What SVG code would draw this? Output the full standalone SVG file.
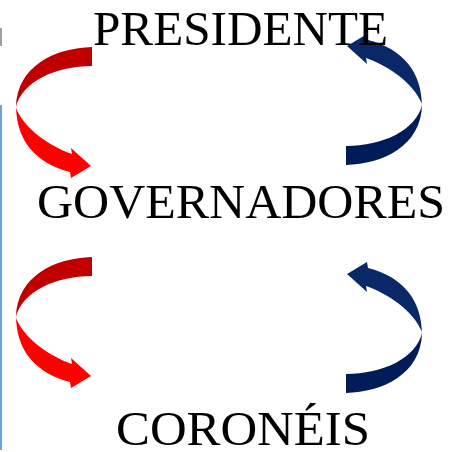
<svg xmlns="http://www.w3.org/2000/svg" xmlns:xlink="http://www.w3.org/1999/xlink" width="451" height="452" viewBox="0 0 451 452">
  <style>
    .lbl { font-family: "Liberation Serif", "DejaVu Serif", serif; font-size: 48px; fill: #000; }
    .red-tail { fill: #c00000; }
    .red-head { fill: #ff0000; }
    .blue-tail { fill: #001c58; }
    .blue-head { fill: #0a2766; }
  </style>
  <defs>
    <path id="tailBand" d="M92,47 C55,48 17,66 16,107 C22,82 55,66 92,66 Z"/>
    <path id="headBand" d="M16,105 C16,140 35,163 70,172 L71,178 L91,166 L71,148 L72,154 C50,146 25,130 16,108 Z"/>
  </defs>
  <rect x="0" y="28" width="2" height="18" fill="#a0a0a0"/>
  <line x1="1" y1="105" x2="1" y2="450" stroke="#6ca4dc" stroke-width="2"/>
  <g id="connectors">
    <g id="arrow-red-top">
      <use xlink:href="#tailBand" class="red-tail"/>
      <use xlink:href="#headBand" class="red-head"/>
    </g>
    <g id="arrow-red-bottom" transform="translate(0,210)">
      <use xlink:href="#tailBand" class="red-tail"/>
      <use xlink:href="#headBand" class="red-head"/>
    </g>
    <g id="arrow-blue-top" transform="translate(438,212) scale(-1,-1)">
      <use xlink:href="#tailBand" class="blue-tail"/>
      <use xlink:href="#headBand" class="blue-head"/>
    </g>
    <g id="arrow-blue-bottom" transform="translate(438,440) scale(-1,-1)">
      <use xlink:href="#tailBand" class="blue-tail"/>
      <use xlink:href="#headBand" class="blue-head"/>
    </g>
  </g>
  <g id="node-presidente">
    <text class="lbl" x="93" y="45" textLength="295" lengthAdjust="spacingAndGlyphs">PRESIDENTE</text>
  </g>
  <g id="node-governadores">
    <text class="lbl" x="37" y="218" textLength="408" lengthAdjust="spacingAndGlyphs">GOVERNADORES</text>
  </g>
  <g id="node-coroneis">
    <text class="lbl" x="116" y="445" textLength="254" lengthAdjust="spacingAndGlyphs">CORONÉIS</text>
  </g>
</svg>
